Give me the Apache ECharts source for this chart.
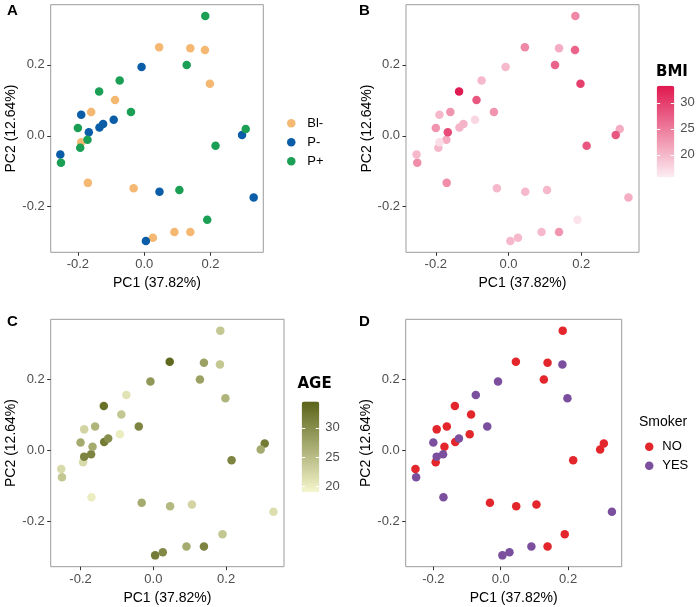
<!DOCTYPE html>
<html>
<head>
<meta charset="utf-8">
<script src="https://cdn.jsdelivr.net/npm/echarts@6/dist/echarts.min.js"></script>
<style>html,body{margin:0;padding:0;background:#fff;}#c{width:700px;height:607px;}</style>
</head>
<body>
<div id="c"></div>
<script>
// ---- data ----
const pc1 = [
  0.184, 0.128, -0.074, -0.136, -0.040, -0.200, -0.171, -0.193, -0.251, 0.306, 0.215, 0.106, 0.190,
  -0.008, -0.190, -0.167, -0.135, -0.124, -0.092, -0.253, 0.295, 0.046, 0.330, 0.005,
  0.045, 0.139, 0.183, 0.198, -0.088, -0.160, -0.190, -0.170, -0.032, 0.026, 0.091, 0.139
];
const pc2 = [
  0.338, 0.200, 0.156, 0.125, 0.067, 0.022, -0.011, -0.034, -0.076, 0.019, -0.028, -0.153, -0.237,
  0.194, 0.059, 0.010, 0.023, 0.033, 0.045, -0.053, 0.002, -0.158, -0.174, -0.297,
  0.250, 0.247, 0.242, 0.147, 0.101, 0.067, -0.018, -0.133, -0.148, -0.288, -0.272, -0.272
];
const group = [
  'P+','P+','P+','P+','P+','P+','P+','P+','P+','P+','P+','P+','P+',
  'P-','P-','P-','P-','P-','P-','P-','P-','P-','P-','P-',
  'Bl-','Bl-','Bl-','Bl-','Bl-','Bl-','Bl-','Bl-','Bl-','Bl-','Bl-','Bl-'
];
const bmi = [
  24, 27, 20, 33, 23, 23, 21, 20, 23.5, 21, 28, 20, 16.5,
  20, 20, 29, 20.5, 20.5, 17.5, 20, 28, 20, 21, 20,
  24, 21, 27, 30, 28, 23, 17, 23.5, 20, 20, 20, 23
];
const age = [
  24, 28, 21, 33, 31, 27, 31, 22, 24, 32, 31, 22.5, 24,
  29, 22.5, 27, 32, 30, 20, 22, 27, 25.5, 21.5, 32,
  34, 28, 24, 26, 24, 26, 31, 20, 27, 30.5, 27, 31
];
const smoker = [
  'NO','NO','YES','NO','YES','YES','YES','NO','YES','NO','NO','NO','NO',
  'YES','NO','NO','NO','YES','NO','NO','NO','NO','YES','YES',
  'NO','NO','YES','YES','NO','NO','YES','YES','NO','YES','YES','NO'
];
const groupLevels = ['Bl-', 'P-', 'P+'];
const smokerLevels = ['NO', 'YES'];
const xTicks = [-0.2, 0.0, 0.2];
const yTicks = [-0.2, 0.0, 0.2];
const bmiTicks = [20, 25, 30];
const ageTicks = [20, 25, 30];
const xTitle = 'PC1 (37.82%)';
const yTitle = 'PC2 (12.64%)';

// ---- styles ----
const FONT = 'Liberation Sans';
const groupColors = {'Bl-': '#F5B872', 'P-': '#0A5DA6', 'P+': '#1A9F55'};
const smokerColors = {'NO': '#E3262B', 'YES': '#7B4F9E'};
const XMIN = -0.282, XMAX = 0.359, YMIN = -0.329, YMAX = 0.370;
const BMI_MIN = 15.7, BMI_MAX = 33.3, AGE_MIN = 19.0, AGE_MAX = 34.5;
const SYM = 8.5;

const grids = [
  {left: 50.7, top: 4.7, width: 212.6, height: 247.6},
  {left: 406, top: 4.7, width: 233, height: 247.6},
  {left: 50.7, top: 319.3, width: 233.3, height: 247.4},
  {left: 405.7, top: 319.3, width: 216, height: 247.4}
].map(g => Object.assign({show: true, borderColor: '#9c9c9c', borderWidth: 1, backgroundColor: '#fff', containLabel: false, outerBoundsMode: 'none'}, g));
// colorbar grids
const cbBMI = {left: 656.7, top: 85.7, width: 17.6, height: 91.6};
const cbAGE = {left: 301.7, top: 401.5, width: 17.6, height: 90.5};
grids.push(Object.assign({show: false, containLabel: false, outerBoundsMode: 'none'}, cbBMI));
grids.push(Object.assign({show: false, containLabel: false, outerBoundsMode: 'none'}, cbAGE));

const fmt = v => v.toFixed(1);
function xAx(i) {
  return {
    type: 'value', gridIndex: i, min: XMIN, max: XMAX, position: 'bottom',
    name: xTitle, nameLocation: 'middle', nameGap: 24,
    nameTextStyle: {fontFamily: FONT, fontSize: 14, color: '#000'},
    axisLine: {show: false, onZero: false},
    axisTick: {show: true, length: 3.5, lineStyle: {color: '#333', width: 1}, customValues: xTicks},
    axisLabel: {fontFamily: FONT, fontSize: 13, color: '#4d4d4d', margin: 6, formatter: fmt, customValues: xTicks},
    splitLine: {show: false}
  };
}
function yAx(i) {
  return {
    type: 'value', gridIndex: i, min: YMIN, max: YMAX, position: 'left',
    name: yTitle, nameLocation: 'middle', nameGap: 32,
    nameTextStyle: {fontFamily: FONT, fontSize: 14, color: '#000'},
    axisLine: {show: false, onZero: false},
    axisTick: {show: true, length: 3.5, lineStyle: {color: '#333', width: 1}, customValues: yTicks},
    axisLabel: {fontFamily: FONT, fontSize: 13, color: '#4d4d4d', margin: 6, formatter: fmt, customValues: yTicks},
    splitLine: {show: false}
  };
}
function cbAx(gi, pos, mn, mx, ticks, showLabel) {
  return {
    type: 'value', gridIndex: gi, position: pos, min: mn, max: mx, z: 10,
    axisLine: {show: false, onZero: false},
    axisTick: {show: true, inside: true, length: 3.5, lineStyle: {color: '#fff', width: 1}, customValues: ticks},
    axisLabel: {show: showLabel, inside: false, fontFamily: FONT, fontSize: 13, color: '#4d4d4d', margin: 6, customValues: ticks},
    splitLine: {show: false}
  };
}

const xAxis = [xAx(0), xAx(1), xAx(2), xAx(3),
  {type: 'value', gridIndex: 4, show: false, min: 0, max: 1},
  {type: 'value', gridIndex: 5, show: false, min: 0, max: 1}];
const yAxis = [yAx(0), yAx(1), yAx(2), yAx(3),
  cbAx(4, 'left', BMI_MIN, BMI_MAX, bmiTicks, false),
  cbAx(4, 'right', BMI_MIN, BMI_MAX, bmiTicks, true),
  cbAx(5, 'left', AGE_MIN, AGE_MAX, ageTicks, false),
  cbAx(5, 'right', AGE_MIN, AGE_MAX, ageTicks, true)];

const idx = pc1.map((_, i) => i);
const series = [];
groupLevels.forEach(g => {
  series.push({
    type: 'scatter', name: g, xAxisIndex: 0, yAxisIndex: 0, symbolSize: SYM,
    itemStyle: {color: groupColors[g], opacity: 1},
    data: idx.filter(i => group[i] === g).map(i => [pc1[i], pc2[i]])
  });
});
series.push({
  type: 'scatter', name: 'BMI', xAxisIndex: 1, yAxisIndex: 1, symbolSize: SYM,
  itemStyle: {opacity: 1},
  data: idx.map(i => [pc1[i], pc2[i], bmi[i]])
});
series.push({
  type: 'scatter', name: 'AGE', xAxisIndex: 2, yAxisIndex: 2, symbolSize: SYM,
  itemStyle: {opacity: 1},
  data: idx.map(i => [pc1[i], pc2[i], age[i]])
});
smokerLevels.forEach(s => {
  series.push({
    type: 'scatter', name: s, xAxisIndex: 3, yAxisIndex: 3, symbolSize: SYM,
    itemStyle: {color: smokerColors[s], opacity: 1},
    data: idx.filter(i => smoker[i] === s).map(i => [pc1[i], pc2[i]])
  });
});

const letter = (t, l, tp) => ({text: t, left: l, top: tp, padding: 0,
  textStyle: {fontFamily: FONT, fontSize: 15, fontWeight: 'bold', color: '#000'}});
const title = [
  letter('A', 7, 3), letter('B', 359, 3), letter('C', 7, 314), letter('D', 359, 314),
  {text: 'BMI', left: 656, top: 64.5, padding: 0, textStyle: {fontFamily: 'DejaVu Sans', fontSize: 15, fontWeight: 'bold', color: '#000'}},
  {text: 'AGE', left: 297.5, top: 377, padding: 0, textStyle: {fontFamily: 'DejaVu Sans', fontSize: 15, fontWeight: 'bold', color: '#000'}},
  {text: 'Smoker', left: 639, top: 415, padding: 0, textStyle: {fontFamily: FONT, fontSize: 14, fontWeight: 'normal', color: '#000'}}
];

const legend = [
  {data: groupLevels, orient: 'vertical', left: 287, top: 113.8, padding: 0, itemGap: 0,
   icon: 'circle', itemWidth: 22, itemHeight: 8.5, selectedMode: false,
   textStyle: {fontFamily: FONT, fontSize: 13, color: '#000', lineHeight: 19}},
  {data: smokerLevels, orient: 'vertical', left: 645, top: 437.2, padding: 0, itemGap: 0,
   icon: 'circle', itemWidth: 16, itemHeight: 8.5, selectedMode: false,
   textStyle: {fontFamily: FONT, fontSize: 13, color: '#000', lineHeight: 19}}
];

const visualMap = [
  {type: 'continuous', seriesIndex: 3, dimension: 2, min: BMI_MIN, max: BMI_MAX,
   inRange: {color: ['#fcedf3', '#e0174f']}, calculable: false, hoverLink: false,
   left: cbBMI.left, top: cbBMI.top, itemWidth: cbBMI.width, itemHeight: cbBMI.height, padding: 0, orient: 'vertical'},
  {type: 'continuous', seriesIndex: 4, dimension: 2, min: AGE_MIN, max: AGE_MAX,
   inRange: {color: ['#f5f6cc', '#5a6318']}, calculable: false, hoverLink: false,
   left: cbAGE.left, top: cbAGE.top, itemWidth: cbAGE.width, itemHeight: cbAGE.height, padding: 0, orient: 'vertical'}
];

const chart = echarts.init(document.getElementById('c'), null, {renderer: 'canvas'});
chart.setOption({
  animation: false,
  backgroundColor: '#fff',
  title, legend, visualMap,
  grid: grids, xAxis, yAxis, series
});
</script>
</body>
</html>
